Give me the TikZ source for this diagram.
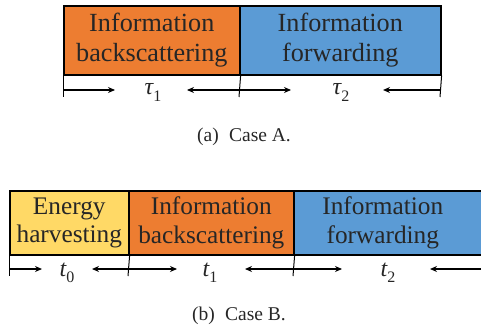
\documentclass[tikz,border=0pt]{standalone}
\usepackage{fontspec}
\setmainfont{Liberation Serif}
\usetikzlibrary{arrows.meta}
\definecolor{corange}{HTML}{ED7D31}
\definecolor{cblue}{HTML}{5B9BD5}
\definecolor{cyellow}{HTML}{FFD966}
\definecolor{ctext}{HTML}{262626}
\newcommand{\dursub}[2]{\itshape #1\raisebox{-0.6ex}{\upshape\fontsize{16}{18}\selectfont #2}}
\begin{document}
\begin{tikzpicture}[x=1pt,y=-1pt,
  seg/.style={draw=black,line width=1.6pt,anchor=north west,inner sep=0pt,
    align=center,text=ctext,font=\fontsize{26.2}{30}\selectfont},
  segb/.style={seg,font=\fontsize{25.3}{28.5}\selectfont},
  tickline/.style={line width=1pt},
  arr/.style={-{Stealth[length=7pt,width=6pt]},line width=1.3pt},
  dur/.style={font=\fontsize{24}{28}\selectfont,text=ctext,inner sep=0pt,anchor=base},
  capt/.style={font=\fontsize{19.5}{22}\selectfont,text=ctext}]
\useasboundingbox (0,0) rectangle (481,334);
% Case A
\node[seg,fill=corange,minimum width=176pt,minimum height=68.5pt] (aI) at (63,5.5) {Information\\backscattering};
\node[seg,fill=cblue,minimum width=201pt,minimum height=68.5pt] (aF) at (239,5.5) {Information\\forwarding};
\coordinate (a0) at (63,97);
\coordinate (a1) at (239,97);
\coordinate (a2) at (440,97);
\draw[tickline] (aI.south west) -- (a0);
\draw[tickline] (aI.south east) -- (a1);
\draw[tickline] (aF.south east) -- (a2);
\node[dur] (tau1) at (153,95) {\dursub{τ}{1}};
\node[dur] (tau2) at (341,95) {\dursub{τ}{2}};
\draw[arr] (63,90) -- (115,90);
\draw[arr] (239,90) -- (187,90);
\draw[arr] (239,90) -- (291,90);
\draw[arr] (440,90) -- (383,90);
\node[capt] (capA) at (244,137) {(a)\; Case A.};
% Case B
\node[segb,fill=cyellow,minimum width=119pt,minimum height=64pt] (bE) at (9,190) {Energy\\harvesting};
\node[segb,fill=corange,minimum width=165pt,minimum height=64pt] (bI) at (128,190) {Information\\backscattering};
\node[segb,fill=cblue,minimum width=220pt,minimum height=64pt,text width=190pt] (bF) at (293,190) {\hspace*{-42pt}Information\\\hspace*{-42pt}forwarding};
\coordinate (b0) at (9,276);
\coordinate (b1) at (128,276);
\coordinate (b2) at (293,276);
\draw[tickline] (bE.south west) -- (b0);
\draw[tickline] (bE.south east) -- (b1);
\draw[tickline] (bI.south east) -- (b2);
\node[dur] (t0) at (67,276) {\dursub{t}{0}};
\node[dur] (t1) at (210,276) {\dursub{t}{1}};
\node[dur] (t2) at (388,276) {\dursub{t}{2}};
\draw[arr] (9,269) -- (42,269);
\draw[arr] (128,269) -- (92,269);
\draw[arr] (128,269) -- (177,269);
\draw[arr] (293,269) -- (245,269);
\draw[arr] (293,269) -- (342,269);
\draw[arr] (500,269) -- (430,269);
\node[capt] (capB) at (239,316) {(b)\; Case B.};
\end{tikzpicture}
\end{document}
